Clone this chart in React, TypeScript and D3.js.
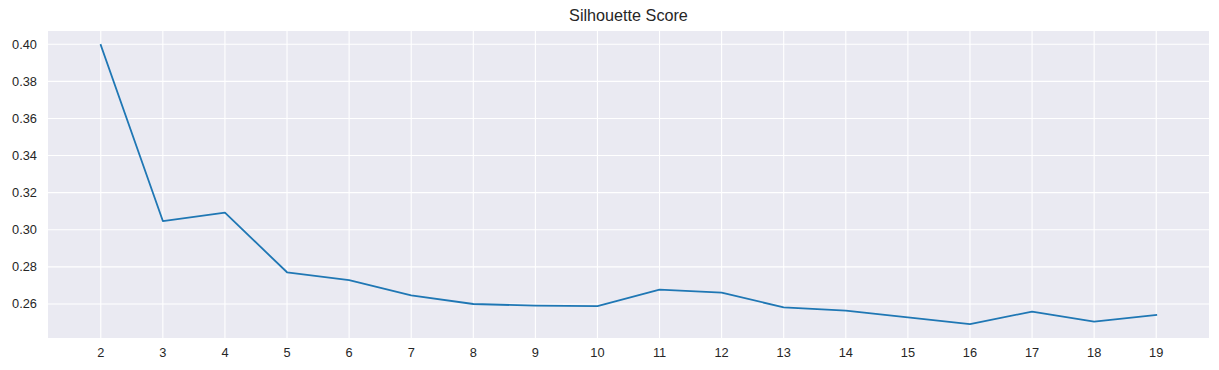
import React from "react";
import * as d3 from "d3";

const title = "Silhouette Score";
const clusters = [2, 3, 4, 5, 6, 7, 8, 9, 10, 11, 12, 13, 14, 15, 16, 17, 18, 19];
const scores = [0.3996, 0.3047, 0.3092, 0.2771, 0.2729, 0.2647, 0.2600, 0.2591, 0.2589, 0.2677, 0.2661, 0.2582, 0.2564, 0.2528, 0.2492, 0.2559, 0.2505, 0.2541];
const yTicks = [0.26, 0.28, 0.30, 0.32, 0.34, 0.36, 0.38, 0.40];

const W = 1219;
const H = 370;
const M = { left: 48, right: 1209, top: 31, bottom: 338 };
const FONT = "'Liberation Sans', Arial, sans-serif";

export default function App() {
  const xr = d3.extent(clusters) as [number, number];
  const yr = d3.extent(scores) as [number, number];
  const xPad = (xr[1] - xr[0]) * 0.05;
  const yPad = (yr[1] - yr[0]) * 0.05;
  const x = d3.scaleLinear().domain([xr[0] - xPad, xr[1] + xPad]).range([M.left, M.right]);
  const y = d3.scaleLinear().domain([yr[0] - yPad, yr[1] + yPad]).range([M.bottom, M.top]);
  const line = d3
    .line<number>()
    .x((_, i) => x(clusters[i]))
    .y((d) => y(d));

  return (
    <svg
      width={W}
      height={H}
      style={{ position: "absolute", left: 0, top: 0, background: "#fff" }}
      fontFamily={FONT}
    >
      <rect x={M.left} y={M.top} width={M.right - M.left} height={M.bottom - M.top} fill="#eaeaf2" />
      {yTicks.map((t) => (
        <line key={"gy" + t} x1={M.left} x2={M.right} y1={y(t)} y2={y(t)} stroke="#fff" strokeWidth={1.1} />
      ))}
      {clusters.map((c) => (
        <line key={"gx" + c} x1={x(c)} x2={x(c)} y1={M.top} y2={M.bottom} stroke="#fff" strokeWidth={1.1} />
      ))}
      <path d={line(scores) || ""} fill="none" stroke="#1f77b4" strokeWidth={1.8} strokeLinejoin="round" strokeLinecap="square" />
      {yTicks.map((t) => (
        <text key={"ty" + t} x={M.left - 11} y={y(t)} dy="0.35em" textAnchor="end" fontSize={12.8} fill="#262626">
          {t.toFixed(2)}
        </text>
      ))}
      {clusters.map((c) => (
        <text key={"tx" + c} x={x(c)} y={357} textAnchor="middle" fontSize={12.8} fill="#262626">
          {c}
        </text>
      ))}
      <text x={(M.left + M.right) / 2} y={21.3} textAnchor="middle" fontSize={16.2} fill="#262626">
        {title}
      </text>
    </svg>
  );
}
